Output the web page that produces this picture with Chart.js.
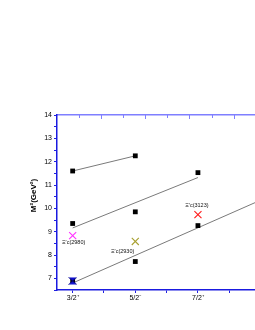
<!DOCTYPE html>
<html>
<head>
<meta charset="utf-8">
<script src="https://cdn.jsdelivr.net/npm/chart.js@4.4.1/dist/chart.umd.min.js"></script>
<style>
  html, body { margin: 0; padding: 0; background: #fff; overflow: hidden; width: 255px; height: 330px; }
  canvas { display: block; }
</style>
</head>
<body>
<canvas id="c" width="298" height="330"></canvas>
<script>
// ---- data ----
const J_POSITIONS = [1.5, 2.5, 3.5];           // 3/2, 5/2, 7/2
const X_TICK_POSITIONS = [1.5, 2, 2.5, 3, 3.5, 4, 4.5];
const X_LABEL_POSITIONS = [1.5, 2.5, 3.5, 4.5];
const X_TICK_LABELS = ['3/2\u207A', '5/2\u207B', '7/2\u207A', '9/2\u207B'];
const Y_TICK_LABELS = [7, 8, 9, 10, 11, 12, 13, 14];

const traj1 = [11.6, 12.25];
const traj2 = [9.35, 9.85, 11.53];
const traj3 = [6.9, 7.72, 9.26];

const fit1X = [1.5, 2.5];  const fit1Y = [11.6, 12.25];
const fit2X = [1.5, 3.5];  const fit2Y = [9.16, 11.32];
const fit3X = [1.5, 5.0];  const fit3Y = [6.80, 10.94];

const expNames = ['\u039E\u2032c(2980)', '\u039E\u2032c(2930)', '\u039E\u2032c(3123)'];
const expX = [1.5, 2.5, 3.5];
const expY = [8.83, 8.58, 9.73];
const blueX = [1.5];
const blueY = [6.89];

// ---- helpers ----
const pts = (xs, ys) => xs.map((x, i) => ({ x, y: ys[i] }));

function hourglass() {
  const c = document.createElement('canvas');
  c.width = 9; c.height = 8;
  const g = c.getContext('2d');
  g.fillStyle = '#1010d0';
  g.beginPath();
  g.moveTo(0.5, 0.5); g.lineTo(8.5, 0.5); g.lineTo(4.5, 4);
  g.closePath(); g.fill();
  g.beginPath();
  g.moveTo(4.5, 4); g.lineTo(8.5, 7.5); g.lineTo(0.5, 7.5);
  g.closePath(); g.fill();
  g.strokeStyle = '#000080'; g.lineWidth = 0.8;
  g.beginPath(); g.moveTo(0.5, 0.5); g.lineTo(8.5, 7.5); g.moveTo(8.5, 0.5); g.lineTo(0.5, 7.5); g.stroke();
  return c;
}

const lineDs = (xs, ys) => ({
  data: pts(xs, ys), showLine: true, borderColor: '#7a7a7a', borderWidth: 1,
  pointRadius: 0, fill: false, order: 5
});
const sqDs = (ys) => ({
  data: pts(J_POSITIONS.slice(0, ys.length), ys), showLine: false,
  pointStyle: 'rect', pointRadius: 3.4, backgroundColor: '#000', borderColor: '#000', borderWidth: 0, order: 2
});
const xDs = (i, color) => ({
  data: [{ x: expX[i], y: expY[i] }], showLine: false,
  pointStyle: 'crossRot', pointRadius: 5, borderColor: color, borderWidth: 1.1, order: 1
});

const annotPlugin = {
  id: 'annot',
  afterDraw(chart) {
    const { ctx, scales } = chart;
    const x = scales.x, y = scales.y, x2 = scales.x2, area = chart.chartArea;
    ctx.save();
    // inner ticks on top axis
    ctx.strokeStyle = '#8080ff';
    ctx.lineWidth = 1;
    x2.ticks.forEach((t, i) => {
      const px = Math.round(x2.getPixelForTick(i)) + 0.5;
      if (px <= area.left + 2) return;
      const len = (t.value % 2 === 0) ? 4 : 3;
      ctx.beginPath(); ctx.moveTo(px, area.top); ctx.lineTo(px, area.top + len); ctx.stroke();
    });
    // labels of experimental states
    ctx.fillStyle = '#111';
    ctx.font = '5.5px "Liberation Sans", Arial, sans-serif';
    ctx.textBaseline = 'middle';
    const offs = [[1, 7, 'center'], [-1, 10, 'right'], [-1, -9, 'center']];
    expNames.forEach((n, i) => {
      ctx.textAlign = offs[i][2];
      ctx.fillText(n, x.getPixelForValue(expX[i]) + offs[i][0], y.getPixelForValue(expY[i]) + offs[i][1]);
    });
    // y-axis title
    ctx.save();
    ctx.translate(34, (area.top + area.bottom) / 2 - 7);
    ctx.rotate(-Math.PI / 2);
    ctx.textAlign = 'center';
    ctx.textBaseline = 'middle';
    ctx.fillStyle = '#000';
    ctx.font = 'bold 8px "Liberation Sans", Arial, sans-serif';
    ctx.fillText('M\u00B2(GeV\u00B2)', 0, 0);
    ctx.restore();
    ctx.restore();
  }
};

new Chart(document.getElementById('c'), {
  type: 'scatter',
  data: {
    datasets: [
      { data: pts(blueX, blueY), showLine: false, pointStyle: hourglass(), order: 0 },
      xDs(0, '#ff33ff'),
      xDs(1, '#a8a030'),
      xDs(2, '#ff1a1a'),
      sqDs(traj1), sqDs(traj2), sqDs(traj3),
      lineDs(fit1X, fit1Y), lineDs(fit2X, fit2Y), lineDs(fit3X, fit3Y)
    ]
  },
  options: {
    responsive: false,
    animation: false,
    devicePixelRatio: 1,
    layout: { padding: 0 },
    plugins: { legend: { display: false }, tooltip: { enabled: false } },
    scales: {
      x: {
        type: 'linear', position: 'bottom', min: 1.25, max: 5,
        afterBuildTicks: (s) => { s.ticks = X_TICK_POSITIONS.map(v => ({ value: v })); },
        afterFit: (s) => { s.height = 40; },
        ticks: {
          autoSkip: false, maxRotation: 0, padding: 1,
          color: '#000', font: { size: 7, family: '"Liberation Sans", Arial, sans-serif' },
          callback: (v) => { const k = X_LABEL_POSITIONS.indexOf(v); return k >= 0 ? X_TICK_LABELS[k] : ''; }
        },
        grid: { drawOnChartArea: false, drawTicks: true, tickLength: 3, tickColor: '#2020e0', tickWidth: 1 },
        border: { color: '#1a1ae0', width: 1.5 }
      },
      x2: {
        type: 'linear', position: 'top', min: 0, max: 10.64,
        afterFit: (s) => { s.height = 115; },
        ticks: { display: false, stepSize: 1 },
        grid: { drawOnChartArea: false, drawTicks: false },
        border: { color: '#7f7fff', width: 1.5 }
      },
      y: {
        type: 'linear', position: 'left', min: 6.5, max: 14,
        afterBuildTicks: (s) => {
          const t = [];
          Y_TICK_LABELS.forEach(v => { t.push({ value: v }); if (v < 14) t.push({ value: v + 0.5 }); });
          t.unshift({ value: 6.5 });
          s.ticks = t;
        },
        afterFit: (s) => { s.width = 57; },
        ticks: {
          autoSkip: false, padding: 2,
          color: '#000', font: { size: 7, family: '"Liberation Sans", Arial, sans-serif' },
          callback: (v) => Y_TICK_LABELS.includes(v) ? String(v) : ''
        },
        grid: { drawOnChartArea: false, drawTicks: true, tickLength: 3, tickColor: '#2020e0', tickWidth: 1 },
        border: { color: '#1a1ae0', width: 1.5 }
      }
    }
  },
  plugins: [annotPlugin]
});
</script>
</body>
</html>
